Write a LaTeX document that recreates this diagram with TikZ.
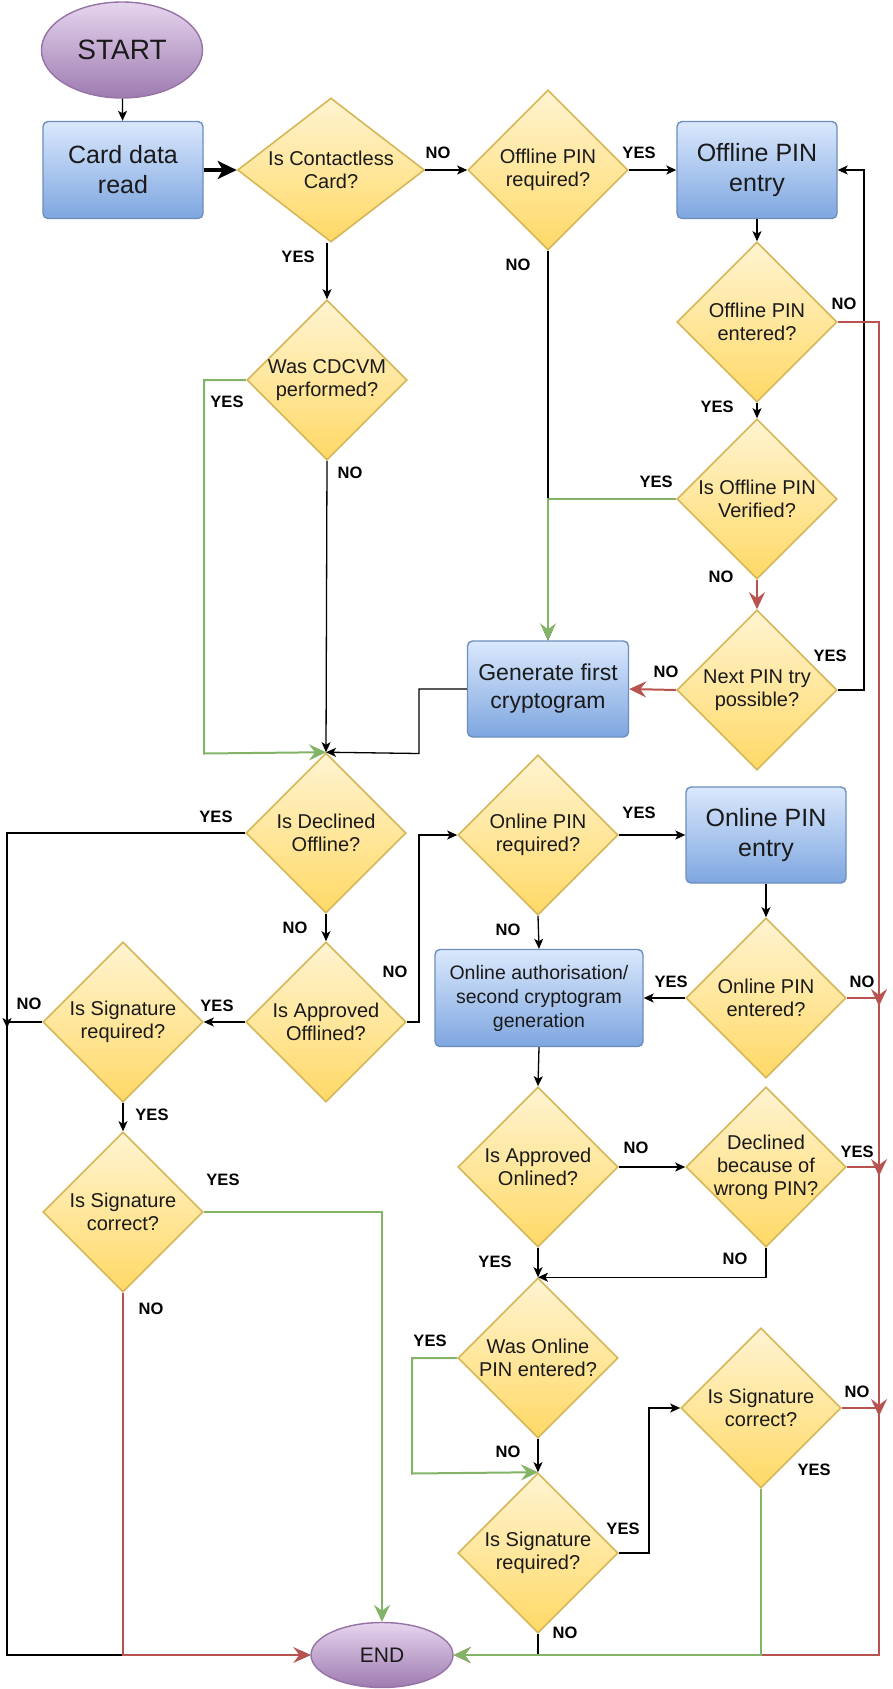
\documentclass[tikz,border=0pt]{standalone}
\usepackage{fontspec}
\setmainfont{Liberation Sans}
\usetikzlibrary{shapes.geometric,arrows.meta}
\definecolor{dtop}{HTML}{FFF4D2}
\definecolor{dbot}{HTML}{FFD966}
\definecolor{dstroke}{HTML}{D6B656}
\definecolor{btop}{HTML}{DAE8FC}
\definecolor{bbot}{HTML}{7EA6E0}
\definecolor{bstroke}{HTML}{6C8EBF}
\definecolor{ptop}{HTML}{E6D5EE}
\definecolor{pbot}{HTML}{9E7BB0}
\definecolor{pstroke}{HTML}{9673A6}
\definecolor{gcol}{HTML}{82B366}
\definecolor{rcol}{HTML}{B85450}
\definecolor{txt}{HTML}{1A1A1A}
\tikzset{
  dia/.style={diamond, draw=dstroke, line width=1.6pt, top color=dtop, bottom color=dbot,
    inner sep=0pt, minimum width=160pt, minimum height=160pt},
  dtext/.style={font=\fontsize{20}{23}\selectfont, align=center, text=txt, inner sep=0pt},
  box/.style={rectangle, rounded corners=5pt, draw=bstroke, line width=1.4pt,
    top color=btop, bottom color=bbot, minimum width=160pt, minimum height=97pt,
    align=center, text=txt, inner sep=0pt, font=\fontsize{25}{30}\selectfont},
  term/.style={ellipse, draw=pstroke, line width=1.4pt, top color=ptop, bottom color=pbot,
    inner sep=0pt, text=txt},
  lbl/.style={font=\fontsize{16.5}{20}\selectfont\bfseries, text=black, inner sep=0pt},
  ln/.style={draw=black, line width=1.3pt, -{Stealth[length=10pt,width=9pt,inset=2.5pt]}},
  plainln/.style={draw=black, line width=1.3pt},
  gl/.style={draw=gcol, line width=2pt, -{Stealth[length=17pt,width=16pt,inset=6pt]}},
  rl/.style={draw=rcol, line width=2pt, -{Stealth[length=17pt,width=16pt,inset=6pt]}},
}
\begin{document}
\begin{tikzpicture}[x=1pt,y=-1pt]
\useasboundingbox[fill=white] (0,0) rectangle (892,1689);

% terminals
\node[term, minimum width=161pt, minimum height=96pt, font=\fontsize{28}{32}\selectfont] (start) at (122,50) {START};
\node[term, minimum width=142pt, minimum height=65pt, font=\fontsize{21}{24}\selectfont] (end) at (382,1655) {END};

% boxes
\node[box] (card) at (123,170) {Card data\\read};
\node[box] (offentry) at (757,170) {Offline PIN\\entry};
\node[box, minimum width=161pt, minimum height=96pt, font=\fontsize{23}{28}\selectfont] (gen) at (548,689) {Generate first\\cryptogram};
\node[box, minimum height=96pt] (onentry) at (766,835) {Online PIN\\entry};
\node[box, minimum width=208pt, font=\fontsize{19.5}{24}\selectfont] (auth) at (539,998) {Online authorisation/\\second cryptogram\\generation};

% diamonds
\node[dia, minimum width=187pt, minimum height=144pt, label={[dtext]center:{Is Contactless\\Card?}}] (contactless) at (331,170) {};
\node[dia, label={[dtext]center:{Was CDCVM\\performed?}}] (cdcvm) at (327,380) {};
\node[dia, label={[dtext]center:{Offline PIN\\required?}}] (offreq) at (548,170) {};
\node[dia, label={[dtext]center:{Offline PIN\\entered?}}] (offentered) at (757,322) {};
\node[dia, label={[dtext]center:{Is Offline PIN\\Verified?}}] (verified) at (757,499) {};
\node[dia, label={[dtext]center:{Next PIN try\\possible?}}] (nexttry) at (757,690) {};
\node[dia, label={[dtext]center:{Is Declined\\Offline?}}] (declined) at (326,833) {};
\node[dia, label={[dtext]center:{Is Approved\\Offlined?}}] (apoff) at (326,1022) {};
\node[dia, label={[dtext]center:{Is Signature\\required?}}] (sigreq1) at (123,1022) {};
\node[dia, label={[dtext]center:{Is Signature\\correct?}}] (sigcor1) at (123,1212) {};
\node[dia, label={[dtext]center:{Online PIN\\required?}}] (onreq) at (538,835) {};
\node[dia, label={[dtext]center:{Online PIN\\entered?}}] (onentered) at (766,998) {};
\node[dia, label={[dtext]center:{Is Approved\\Onlined?}}] (apon) at (538,1167) {};
\node[dia, label={[dtext]center:{Declined\\because of\\wrong PIN?}}] (wrongpin) at (766,1167) {};
\node[dia, label={[dtext]center:{Was Online\\PIN entered?}}] (wasonline) at (538,1358) {};
\node[dia, label={[dtext]center:{Is Signature\\required?}}] (sigreq2) at (538,1553) {};
\node[dia, label={[dtext]center:{Is Signature\\correct?}}] (sigcor2) at (761,1408) {};

% helper coordinates
\coordinate (j1) at (864,170);
\coordinate (rb) at (879,1655);
\coordinate (g1) at (204,753.5);
\coordinate (b1) at (419,753.5);
\coordinate (lb) at (7,1655);
\coordinate (b2) at (419,835);
\coordinate (lj) at (7,1028);
\coordinate (r1) at (879,1006);
\coordinate (r2) at (879,1176);
\coordinate (g2) at (412,1473.5);
\coordinate (b3) at (649,1408);
\coordinate (r3) at (879,1416);
\coordinate (j2) at (538,1655);

% connectors
\draw[ln] (start) -- (card);
\draw[draw=black, line width=3.5pt, -{Stealth[length=19pt,width=18pt,inset=5pt]}] (card.east) -- (contactless.west);
\draw[ln] (contactless.east) -- (offreq.west);
\draw[ln] (offreq.east) -- (offentry.west);
\draw[ln] (contactless.south -| cdcvm.north) -- (cdcvm.north);
\draw[ln] (offentry.south) -- (offentered.north);
\draw[ln] (offentered.south) -- (verified.north);
\draw[rl] (verified.south) -- (nexttry.north);
\draw[rl] (nexttry.west) -- (gen.east);
\draw[ln] (nexttry.east) -| (j1) -- (offentry.east);
\draw[ln] (offreq.south) -- (gen.north);
\draw[gl] (verified.west) -| (gen.north);
\draw[rl] (offentered.east) -| (rb) -- (end.east);
\draw[gl] (cdcvm.west) -| (g1) -- (declined.north);
\draw[ln] (cdcvm.south) -- (declined.north);
\draw[ln] (gen.west) -| (b1) -- (declined.north);
\draw[ln] (declined.west) -| (lb) -- (end.west);
\draw[ln] (declined.south) -- (apoff.north);
\draw[ln] (apoff.west) -- (sigreq1.east);
\draw[ln] (apoff.east) -| (b2) -- (onreq.west);
\draw[ln] (sigreq1.west) -| (lj);
\draw[ln] (sigreq1.south) -- (sigcor1.north);
\draw[gl] (sigcor1.east) -| (end.north);
\draw[rl] (sigcor1.south) |- (end.west);
\draw[ln] (onreq.east) -- (onentry.west);
\draw[ln] (onreq.south) -- (auth.north);
\draw[ln] (onentry.south) -- (onentered.north);
\draw[ln] (onentered.west) -- (auth.east);
\draw[rl] (onentered.east) -| (r1);
\draw[ln] (auth.south) -- (apon.north);
\draw[ln] (apon.east) -- (wrongpin.west);
\draw[rl] (wrongpin.east) -| (r2);
\draw[ln] (wrongpin.south) |- (wasonline.north);
\draw[ln] (apon.south) -- (wasonline.north);
\draw[gl] (wasonline.west) -| (g2) -- (sigreq2.north);
\draw[ln] (wasonline.south) -- (sigreq2.north);
\draw[ln] (sigreq2.east) -| (b3) -- (sigcor2.west);
\draw[rl] (sigcor2.east) -| (r3);
\draw[plainln] (sigreq2.south) -- (j2);
\draw[gl] (sigcor2.south) |- (end.east);

% YES / NO labels
\node[lbl] (l1) at (298,257) {YES};
\node[lbl] (l2) at (438,153) {NO};
\node[lbl] (l3) at (639,153) {YES};
\node[lbl] (l4) at (518,265) {NO};
\node[lbl] (l5) at (844,304) {NO};
\node[lbl] (l6) at (717,407) {YES};
\node[lbl] (l7) at (656,482) {YES};
\node[lbl] (l8) at (721,577) {NO};
\node[lbl] (l9) at (830,656) {YES};
\node[lbl] (l10) at (666,672) {NO};
\node[lbl] (l11) at (227,402) {YES};
\node[lbl] (l12) at (350,473) {NO};
\node[lbl] (l13) at (216,817) {YES};
\node[lbl] (l14) at (295,928) {NO};
\node[lbl] (l15) at (395,972) {NO};
\node[lbl] (l16) at (217,1006) {YES};
\node[lbl] (l17) at (29,1004) {NO};
\node[lbl] (l18) at (152,1115) {YES};
\node[lbl] (l19) at (223,1180) {YES};
\node[lbl] (l20) at (151,1309) {NO};
\node[lbl] (l21) at (639,813) {YES};
\node[lbl] (l22) at (508,930) {NO};
\node[lbl] (l23) at (671,982) {YES};
\node[lbl] (l24) at (862,982) {NO};
\node[lbl] (l25) at (636,1148) {NO};
\node[lbl] (l26) at (857,1152) {YES};
\node[lbl] (l27) at (735,1259) {NO};
\node[lbl] (l28) at (495,1262) {YES};
\node[lbl] (l29) at (430,1341) {YES};
\node[lbl] (l30) at (508,1452) {NO};
\node[lbl] (l31) at (623,1529) {YES};
\node[lbl] (l32) at (565,1633) {NO};
\node[lbl] (l33) at (857,1392) {NO};
\node[lbl] (l34) at (814,1470) {YES};
\end{tikzpicture}
\end{document}
